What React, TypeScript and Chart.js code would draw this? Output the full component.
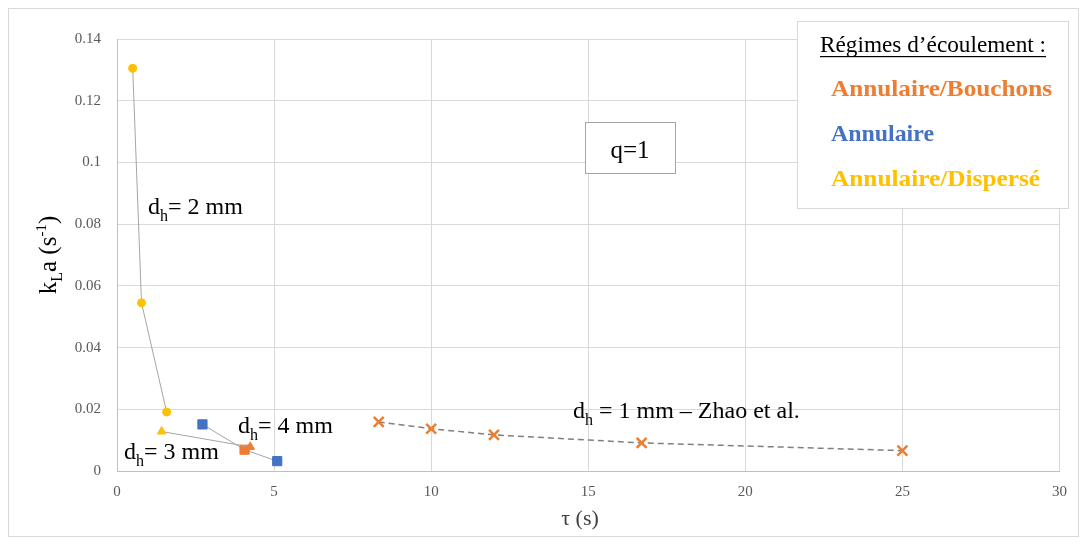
import React, { useEffect, useRef } from "react";
import { Chart, registerables } from "chart.js";

Chart.register(...registerables);

// ---- data ----
const tau2mm = [0.5, 0.78, 1.58];
const kla2mm = [0.1305, 0.0545, 0.0191];
const regime2mm = ["D", "D", "D"];

const tau3mm = [1.42, 4.24];
const kla3mm = [0.0128, 0.0078];
const regime3mm = ["D", "B"];

const tau4mm = [2.72, 4.06, 5.1];
const kla4mm = [0.0151, 0.0069, 0.0032];
const regime4mm = ["A", "B", "A"];

const tauZhao = [8.33, 10.0, 12.0, 16.7, 25.0];
const klaZhao = [0.0159, 0.0137, 0.0117, 0.0091, 0.0066];
const regimeZhao = ["B", "B", "B", "B", "B"];

const xTicks = [0, 5, 10, 15, 20, 25, 30];
const yTicks = [0, 0.02, 0.04, 0.06, 0.08, 0.1, 0.12, 0.14];

const legendTitle = "Régimes d’écoulement :";
const legendItems = ["Annulaire/Bouchons", "Annulaire", "Annulaire/Dispersé"];
const regimeKeys = ["B", "A", "D"];

const ORANGE = "#ED7D31";
const BLUE = "#4472C4";
const YELLOW = "#FFC000";
const regimeColor: Record<string, string> = { B: ORANGE, A: BLUE, D: YELLOW };
const legendColors = regimeKeys.map((k) => regimeColor[k]);

const SERIF = "'Liberation Serif', 'DejaVu Serif', serif";

const pts = (xs: number[], ys: number[]) => xs.map((x, i) => ({ x, y: ys[i] }));

function drawSub(ctx: CanvasRenderingContext2D, x: number, y: number, main: string, sub: string, rest: string, size: number) {
  ctx.textAlign = "left";
  ctx.textBaseline = "alphabetic";
  ctx.font = `${size}px ${SERIF}`;
  ctx.fillText(main, x, y);
  let cx = x + ctx.measureText(main).width;
  ctx.font = `${Math.round(size * 0.68)}px ${SERIF}`;
  ctx.fillText(sub, cx, y + size * 0.3);
  cx += ctx.measureText(sub).width;
  ctx.font = `${size}px ${SERIF}`;
  ctx.fillText(rest, cx, y);
}

// draw text stretched to a target width
function fitText(ctx: CanvasRenderingContext2D, t: string, x: number, y: number, w: number) {
  const m = ctx.measureText(t).width;
  ctx.save();
  ctx.translate(x, y);
  ctx.scale(w / m, 1);
  ctx.fillText(t, 0, 0);
  ctx.restore();
}

const overlay = {
  id: "overlay",
  afterDraw(chart: any) {
    const ctx: CanvasRenderingContext2D = chart.ctx;
    const W = chart.width;
    const H = chart.height;
    ctx.save();
    // outer border
    ctx.strokeStyle = "#D9D9D9";
    ctx.lineWidth = 1;
    ctx.strokeRect(0.5, 0.5, W - 1, H - 1);

    // legend box
    ctx.fillStyle = "#FFFFFF";
    ctx.fillRect(789, 13, 271, 187);
    ctx.strokeStyle = "#D9D9D9";
    ctx.strokeRect(789.5, 13.5, 271, 187);
    ctx.fillStyle = "#000000";
    ctx.font = `23px ${SERIF}`;
    ctx.textAlign = "left";
    ctx.textBaseline = "alphabetic";
    fitText(ctx, legendTitle, 812, 44, 226);
    ctx.fillRect(812, 48, 226, 1.2);
    ctx.font = `bold 23px ${SERIF}`;
    const widths = [221, 103, 209];
    legendItems.forEach((t, i) => {
      ctx.fillStyle = legendColors[i];
      fitText(ctx, t, 823, 88 + i * 45, widths[i]);
    });

    // q=1 box
    ctx.fillStyle = "#FFFFFF";
    ctx.fillRect(577, 114, 90, 51);
    ctx.strokeStyle = "#A6A6A6";
    ctx.strokeRect(577.5, 114.5, 90, 51);
    ctx.fillStyle = "#000000";
    ctx.font = `25px ${SERIF}`;
    ctx.textAlign = "center";
    ctx.fillText("q=1", 622, 150);

    // annotations
    ctx.fillStyle = "#000000";
    drawSub(ctx, 140, 206, "d", "h", "= 2 mm", 24);
    drawSub(ctx, 230, 425, "d", "h", "= 4 mm", 24);
    drawSub(ctx, 116, 451, "d", "h", "= 3 mm", 24);
    drawSub(ctx, 565, 410, "d", "h", " = 1 mm – Zhao et al.", 24);

    // x axis title
    ctx.font = `22px ${SERIF}`;
    ctx.textAlign = "center";
    ctx.fillStyle = "#404040";
    ctx.fillText("τ (s)", 572, 517);

    // y axis title (rotated)
    ctx.save();
    ctx.translate(48, 247);
    ctx.rotate(-Math.PI / 2);
    ctx.fillStyle = "#000000";
    const size = 25;
    const parts: [string, number, number][] = [
      ["k", size, 0],
      ["L", 16, 6],
      ["a (s", size, 0],
      ["-1", 15, -10],
      [")", size, 0],
    ];
    let total = 0;
    parts.forEach(([t, s]) => {
      ctx.font = `${s}px ${SERIF}`;
      total += ctx.measureText(t).width;
    });
    let cx = -total / 2;
    ctx.textAlign = "left";
    parts.forEach(([t, s, dy]) => {
      ctx.font = `${s}px ${SERIF}`;
      ctx.fillText(t, cx, dy);
      cx += ctx.measureText(t).width;
    });
    ctx.restore();

    ctx.restore();
  },
};

export default function App() {
  const ref = useRef<HTMLCanvasElement>(null);
  useEffect(() => {
    if (!ref.current) return;
    const lineGray = "#A5A5A5";
    const chart = new Chart(ref.current, {
      type: "scatter",
      data: {
        datasets: [
          {
            label: "dh=2mm",
            data: pts(tau2mm, kla2mm),
            showLine: true,
            borderColor: lineGray,
            borderWidth: 1,
            pointStyle: "circle",
            pointRadius: 4,
            pointBackgroundColor: regime2mm.map((r) => regimeColor[r]),
            pointBorderColor: regime2mm.map((r) => regimeColor[r]),
          },
          {
            label: "dh=3mm",
            data: pts(tau3mm, kla3mm),
            showLine: true,
            borderColor: lineGray,
            borderWidth: 1,
            pointStyle: "triangle",
            pointRadius: 5,
            pointBackgroundColor: regime3mm.map((r) => regimeColor[r]),
            pointBorderColor: regime3mm.map((r) => regimeColor[r]),
          },
          {
            label: "dh=4mm",
            data: pts(tau4mm, kla4mm),
            showLine: true,
            borderColor: lineGray,
            borderWidth: 1,
            pointStyle: "rect",
            pointRadius: 6.5,
            pointBackgroundColor: regime4mm.map((r) => regimeColor[r]),
            pointBorderColor: regime4mm.map((r) => regimeColor[r]),
          },
          {
            label: "Zhao",
            data: pts(tauZhao, klaZhao),
            showLine: true,
            borderColor: "#7F7F7F",
            borderWidth: 1.5,
            borderDash: [6, 4],
            pointStyle: "crossRot",
            pointRadius: 7,
            pointBorderWidth: 2.5,
            pointBackgroundColor: regimeZhao.map((r) => regimeColor[r]),
            pointBorderColor: regimeZhao.map((r) => regimeColor[r]),
          },
        ],
      },
      options: {
        animation: false,
        responsive: true,
        maintainAspectRatio: false,
        layout: { padding: { top: 31, right: 14, left: 0, bottom: 0 } },
        plugins: { legend: { display: false }, tooltip: { enabled: false } },
        scales: {
          x: {
            type: "linear",
            min: 0,
            max: 30,
            afterBuildTicks: (s: any) => {
              s.ticks = xTicks.map((v) => ({ value: v }));
            },
            afterFit: (s: any) => {
              s.height = 66;
            },
            grid: { color: "#D9D9D9", drawTicks: false },
            border: { color: "#BFBFBF" },
            ticks: {
              padding: 12,
              color: "#595959",
              font: { family: SERIF, size: 15 },
              callback: (v: any) => String(v),
            },
          },
          y: {
            type: "linear",
            min: 0,
            max: 0.14,
            afterBuildTicks: (s: any) => {
              s.ticks = yTicks.map((v) => ({ value: v }));
            },
            afterFit: (s: any) => {
              s.width = 109;
            },
            grid: { color: "#D9D9D9", drawTicks: false },
            border: { color: "#BFBFBF" },
            ticks: {
              padding: 16,
              color: "#595959",
              font: { family: SERIF, size: 15 },
              callback: (v: any) => String(Number(Number(v).toFixed(2))),
            },
          },
        },
      },
      plugins: [overlay],
    });
    return () => chart.destroy();
  }, []);
  return (
    <div style={{ width: 1071, height: 529, position: "relative" }}>
      <canvas ref={ref} />
    </div>
  );
}
